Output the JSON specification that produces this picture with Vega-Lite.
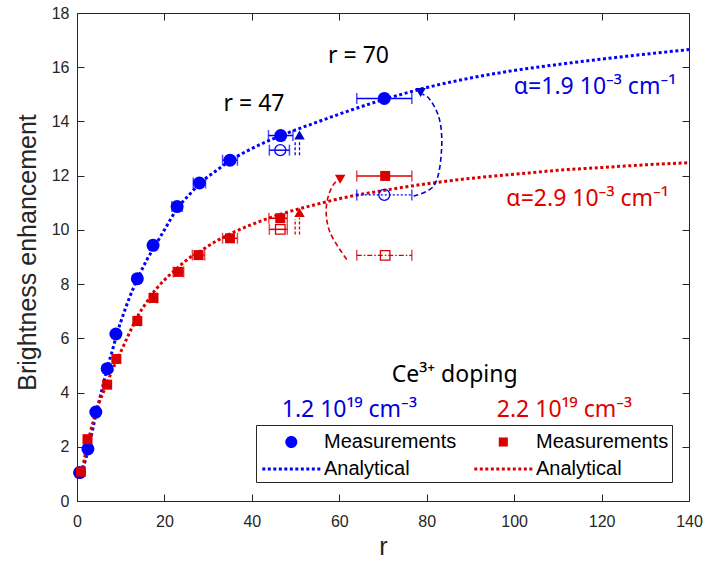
{
  "$schema": "https://vega.github.io/schema/vega-lite/v6.json",
  "width": 612,
  "height": 488,
  "autosize": "none",
  "padding": {"left": 77, "top": 13, "right": 19, "bottom": 62},
  "background": "white",
  "config": {
    "view": {"stroke": "#262626", "strokeWidth": 1},
    "axis": {
      "labelFont": "Liberation Sans", "labelFontSize": 16, "labelColor": "#262626",
      "tickColor": "#262626", "tickSize": -7, "tickWidth": 1, "domain": false, "grid": false,
      "labelFlush": false, "labelOverlap": false,
      "titleFont": "Liberation Sans", "titleColor": "#262626", "titleFontWeight": "normal"
    }
  },
  "datasets": {
    "curves": [
      {"series": "fit 1.2", "r": 1, "b": 1.0}, {"series": "fit 1.2", "r": 2, "b": 1.55}, {"series": "fit 1.2", "r": 3, "b": 2.2},
      {"series": "fit 1.2", "r": 4, "b": 2.95}, {"series": "fit 1.2", "r": 5, "b": 3.65}, {"series": "fit 1.2", "r": 6, "b": 4.3},
      {"series": "fit 1.2", "r": 7, "b": 4.95}, {"series": "fit 1.2", "r": 8, "b": 5.5}, {"series": "fit 1.2", "r": 9, "b": 6.1},
      {"series": "fit 1.2", "r": 10, "b": 6.6}, {"series": "fit 1.2", "r": 12, "b": 7.5}, {"series": "fit 1.2", "r": 14, "b": 8.25},
      {"series": "fit 1.2", "r": 16, "b": 8.9}, {"series": "fit 1.2", "r": 18, "b": 9.45}, {"series": "fit 1.2", "r": 20, "b": 10.0},
      {"series": "fit 1.2", "r": 23, "b": 10.8}, {"series": "fit 1.2", "r": 26, "b": 11.35}, {"series": "fit 1.2", "r": 28, "b": 11.7},
      {"series": "fit 1.2", "r": 32, "b": 12.2}, {"series": "fit 1.2", "r": 35, "b": 12.55}, {"series": "fit 1.2", "r": 40, "b": 13.0},
      {"series": "fit 1.2", "r": 47, "b": 13.5}, {"series": "fit 1.2", "r": 55, "b": 13.98}, {"series": "fit 1.2", "r": 60, "b": 14.27},
      {"series": "fit 1.2", "r": 70, "b": 14.8}, {"series": "fit 1.2", "r": 80, "b": 15.25}, {"series": "fit 1.2", "r": 90, "b": 15.6},
      {"series": "fit 1.2", "r": 100, "b": 15.88}, {"series": "fit 1.2", "r": 110, "b": 16.1}, {"series": "fit 1.2", "r": 120, "b": 16.3},
      {"series": "fit 1.2", "r": 130, "b": 16.48}, {"series": "fit 1.2", "r": 140, "b": 16.65},
      {"series": "fit 2.2", "r": 1, "b": 1.0}, {"series": "fit 2.2", "r": 2, "b": 1.8}, {"series": "fit 2.2", "r": 3, "b": 2.5},
      {"series": "fit 2.2", "r": 4, "b": 3.1}, {"series": "fit 2.2", "r": 5, "b": 3.6}, {"series": "fit 2.2", "r": 6, "b": 4.0},
      {"series": "fit 2.2", "r": 7, "b": 4.4}, {"series": "fit 2.2", "r": 8, "b": 4.8}, {"series": "fit 2.2", "r": 9, "b": 5.15},
      {"series": "fit 2.2", "r": 10, "b": 5.5}, {"series": "fit 2.2", "r": 12, "b": 6.2}, {"series": "fit 2.2", "r": 14, "b": 6.85},
      {"series": "fit 2.2", "r": 16, "b": 7.35}, {"series": "fit 2.2", "r": 18, "b": 7.8}, {"series": "fit 2.2", "r": 20, "b": 8.15},
      {"series": "fit 2.2", "r": 23, "b": 8.6}, {"series": "fit 2.2", "r": 26, "b": 9.0}, {"series": "fit 2.2", "r": 28, "b": 9.2},
      {"series": "fit 2.2", "r": 32, "b": 9.6}, {"series": "fit 2.2", "r": 35, "b": 9.85}, {"series": "fit 2.2", "r": 40, "b": 10.2},
      {"series": "fit 2.2", "r": 47, "b": 10.6}, {"series": "fit 2.2", "r": 55, "b": 10.95}, {"series": "fit 2.2", "r": 60, "b": 11.15},
      {"series": "fit 2.2", "r": 70, "b": 11.45}, {"series": "fit 2.2", "r": 80, "b": 11.7}, {"series": "fit 2.2", "r": 90, "b": 11.9},
      {"series": "fit 2.2", "r": 100, "b": 12.05}, {"series": "fit 2.2", "r": 110, "b": 12.2}, {"series": "fit 2.2", "r": 120, "b": 12.3},
      {"series": "fit 2.2", "r": 130, "b": 12.4}, {"series": "fit 2.2", "r": 140, "b": 12.48}
    ],
    "obs": [
      {"series": "meas 1.2", "r": 0.6, "b": 1.05}, {"series": "meas 1.2", "r": 2.5, "b": 1.92},
      {"series": "meas 1.2", "r": 4.3, "b": 3.28}, {"series": "meas 1.2", "r": 6.9, "b": 4.88},
      {"series": "meas 1.2", "r": 8.9, "b": 6.16}, {"series": "meas 1.2", "r": 13.8, "b": 8.2, "lo": 13.2, "hi": 14.4},
      {"series": "meas 1.2", "r": 17.4, "b": 9.43, "lo": 16.6, "hi": 18.2}, {"series": "meas 1.2", "r": 22.9, "b": 10.86, "lo": 21.7, "hi": 24.1},
      {"series": "meas 1.2", "r": 28, "b": 11.73, "lo": 26.6, "hi": 29.4}, {"series": "meas 1.2", "r": 35, "b": 12.57, "lo": 33.3, "hi": 36.7},
      {"series": "meas 1.2", "r": 46.6, "b": 13.48, "lo": 43.8, "hi": 49.4}, {"series": "meas 1.2", "r": 70.3, "b": 14.85, "lo": 64, "hi": 76.6},
      {"series": "meas 2.2", "r": 0.9, "b": 1.08}, {"series": "meas 2.2", "r": 2.4, "b": 2.28},
      {"series": "meas 2.2", "r": 6.9, "b": 4.29}, {"series": "meas 2.2", "r": 9.0, "b": 5.24},
      {"series": "meas 2.2", "r": 13.8, "b": 6.64, "lo": 13.2, "hi": 14.4}, {"series": "meas 2.2", "r": 17.5, "b": 7.49, "lo": 16.7, "hi": 18.3},
      {"series": "meas 2.2", "r": 23.2, "b": 8.45, "lo": 22, "hi": 24.4}, {"series": "meas 2.2", "r": 27.8, "b": 9.07, "lo": 26.4, "hi": 29.2},
      {"series": "meas 2.2", "r": 35, "b": 9.69, "lo": 33.3, "hi": 36.7}, {"series": "meas 2.2", "r": 46.5, "b": 10.43, "lo": 43.9, "hi": 48.1},
      {"series": "meas 2.2", "r": 70.5, "b": 11.99, "lo": 64, "hi": 76.6},
      {"series": "open 1.2", "r": 46.5, "b": 12.94, "lo": 44, "hi": 48.6},
      {"series": "open 1.2", "r": 70.3, "b": 11.29, "lo": 64, "hi": 76.6},
      {"series": "open 2.2", "r": 46.5, "b": 10.02, "lo": 44, "hi": 48.1},
      {"series": "open 2.2", "r": 70.5, "b": 9.06, "lo": 64, "hi": 76.6}
    ],
    "heads": [
      {"series": "1.2", "dir": "up", "r": 50.9, "b": 13.5},
      {"series": "1.2", "dir": "down", "r": 78.6, "b": 15.07},
      {"series": "2.2", "dir": "up", "r": 50.9, "b": 10.64},
      {"series": "2.2", "dir": "down", "r": 60.2, "b": 11.87}
    ],
    "shafts": [
      {"series": "1.2", "r": 49.9, "b": 12.75, "b2": 13.25},
      {"series": "1.2", "r": 50.9, "b": 12.75, "b2": 13.3},
      {"series": "2.2", "r": 49.9, "b": 9.83, "b2": 10.4},
      {"series": "2.2", "r": 50.9, "b": 9.83, "b2": 10.45}
    ],
    "arcs": [
      {"series": "1.2", "i": 0, "r": 77, "b": 11.25}, {"series": "1.2", "i": 1, "r": 81.5, "b": 11.6},
      {"series": "1.2", "i": 2, "r": 83.4, "b": 12.98}, {"series": "1.2", "i": 3, "r": 82.7, "b": 14.2},
      {"series": "1.2", "i": 4, "r": 80.2, "b": 14.9}, {"series": "1.2", "i": 5, "r": 79, "b": 15.0},
      {"series": "2.2", "i": 0, "r": 61.7, "b": 8.91}, {"series": "2.2", "i": 1, "r": 57.9, "b": 9.9},
      {"series": "2.2", "i": 2, "r": 57, "b": 10.64}, {"series": "2.2", "i": 3, "r": 57.5, "b": 11.25},
      {"series": "2.2", "i": 4, "r": 58.8, "b": 11.7}, {"series": "2.2", "i": 5, "r": 59.9, "b": 11.85}
    ],
    "notes": [
      {"group": "general", "text": "r = 47", "r": 40.5, "b": 14.64},
      {"group": "general", "text": "r = 70", "r": 64.4, "b": 16.4},
      {"group": "general", "text": "Ce³⁺ doping", "r": 86.4, "b": 4.66},
      {"group": "1.2", "text": "α=1.9 10⁻³ cm⁻¹", "r": 118.5, "b": 15.26},
      {"group": "1.2", "text": "1.2 10¹⁹ cm⁻³", "r": 62.3, "b": 3.36},
      {"group": "2.2", "text": "α=2.9 10⁻³ cm⁻¹", "r": 116.8, "b": 11.13},
      {"group": "2.2", "text": "2.2 10¹⁹ cm⁻³", "r": 111.5, "b": 3.36}
    ]
  },
  "resolve": {"axis": {"x": "independent", "y": "independent"}},
  "layer": [
    {
      "layer": [
        {
          "data": {"name": "curves"},
          "transform": [{"filter": "datum.series === 'fit 1.2'"}],
          "mark": {"type": "line", "color": "#0000FF", "strokeWidth": 3, "strokeDash": [3, 2.6], "strokeCap": "butt", "interpolate": "monotone"},
          "encoding": {
            "x": {"field": "r", "type": "quantitative", "scale": {"domain": [0, 140], "nice": false, "zero": false},
                  "axis": {"title": "r", "values": [0, 20, 40, 60, 80, 100, 120, 140], "labelPadding": 19, "titleFontSize": 25, "titleBaseline": "alphabetic", "titleY": 53}},
            "y": {"field": "b", "type": "quantitative", "scale": {"domain": [0, 18], "nice": false, "zero": false},
                  "axis": {"title": "Brightness enhancement", "values": [0, 2, 4, 6, 8, 10, 12, 14, 16, 18], "labelPadding": 15, "titleFontSize": 25, "titleX": -37, "titleY": 239, "titleBaseline": "bottom"}}
          }
        },
        {
          "data": {"name": "curves"},
          "transform": [{"filter": "datum.series === 'fit 2.2'"}],
          "mark": {"type": "line", "color": "#D90000", "strokeWidth": 3, "strokeDash": [3, 2.6], "strokeCap": "butt", "interpolate": "monotone"},
          "encoding": {"x": {"field": "r", "type": "quantitative"}, "y": {"field": "b", "type": "quantitative"}}
        },
        {
          "data": {"name": "obs"},
          "transform": [{"filter": "datum.lo != null && (datum.series === 'meas 1.2' || (datum.series === 'open 1.2' && datum.r < 60))"}],
          "mark": {"type": "rule", "color": "#0000FF", "strokeWidth": 1.5},
          "encoding": {"x": {"field": "lo", "type": "quantitative"}, "x2": {"field": "hi"}, "y": {"field": "b", "type": "quantitative"}}
        },
        {
          "data": {"name": "obs"},
          "transform": [{"filter": "datum.lo != null && (datum.series === 'meas 2.2' || (datum.series === 'open 2.2' && datum.r < 60))"}],
          "mark": {"type": "rule", "color": "#D90000", "strokeWidth": 1.5},
          "encoding": {"x": {"field": "lo", "type": "quantitative"}, "x2": {"field": "hi"}, "y": {"field": "b", "type": "quantitative"}}
        },
        {
          "data": {"name": "obs"},
          "transform": [{"filter": "datum.series === 'open 1.2' && datum.r > 60"}],
          "mark": {"type": "rule", "color": "#0000FF", "strokeWidth": 1.2, "strokeDash": [2, 2]},
          "encoding": {"x": {"field": "lo", "type": "quantitative"}, "x2": {"field": "hi"}, "y": {"field": "b", "type": "quantitative"}}
        },
        {
          "data": {"name": "obs"},
          "transform": [{"filter": "datum.series === 'open 2.2' && datum.r > 60"}],
          "mark": {"type": "rule", "color": "#D90000", "strokeWidth": 1.2, "strokeDash": [5, 2, 1.5, 2]},
          "encoding": {"x": {"field": "lo", "type": "quantitative"}, "x2": {"field": "hi"}, "y": {"field": "b", "type": "quantitative"}}
        },
        {
          "data": {"name": "obs"},
          "transform": [{"filter": "datum.lo != null && (datum.series === 'meas 1.2' || datum.series === 'open 1.2')"}, {"fold": ["lo", "hi"], "as": ["end", "xe"]}],
          "mark": {"type": "tick", "orient": "vertical", "color": "#0000FF", "size": 11, "thickness": 1.5},
          "encoding": {"x": {"field": "xe", "type": "quantitative"}, "y": {"field": "b", "type": "quantitative"}}
        },
        {
          "data": {"name": "obs"},
          "transform": [{"filter": "datum.lo != null && (datum.series === 'meas 2.2' || datum.series === 'open 2.2')"}, {"fold": ["lo", "hi"], "as": ["end", "xe"]}],
          "mark": {"type": "tick", "orient": "vertical", "color": "#D90000", "size": 11, "thickness": 1.5},
          "encoding": {"x": {"field": "xe", "type": "quantitative"}, "y": {"field": "b", "type": "quantitative"}}
        },
        {
          "data": {"name": "obs"},
          "transform": [{"filter": "datum.series === 'open 1.2'"}],
          "mark": {"type": "point", "shape": "circle", "filled": false, "color": "#0000FF", "size": 121, "strokeWidth": 1.3, "opacity": 1},
          "encoding": {"x": {"field": "r", "type": "quantitative"}, "y": {"field": "b", "type": "quantitative"}}
        },
        {
          "data": {"name": "obs"},
          "transform": [{"filter": "datum.series === 'open 2.2'"}],
          "mark": {"type": "point", "shape": "square", "filled": false, "color": "#D90000", "size": 90, "strokeWidth": 1.3, "opacity": 1},
          "encoding": {"x": {"field": "r", "type": "quantitative"}, "y": {"field": "b", "type": "quantitative"}}
        },
        {
          "data": {"name": "shafts"},
          "transform": [{"filter": "datum.series === '1.2'"}],
          "mark": {"type": "rule", "color": "#0000FF", "strokeWidth": 1.3, "strokeDash": [3, 2]},
          "encoding": {"x": {"field": "r", "type": "quantitative"}, "y": {"field": "b", "type": "quantitative"}, "y2": {"field": "b2"}}
        },
        {
          "data": {"name": "shafts"},
          "transform": [{"filter": "datum.series === '2.2'"}],
          "mark": {"type": "rule", "color": "#D90000", "strokeWidth": 1.3, "strokeDash": [3, 2]},
          "encoding": {"x": {"field": "r", "type": "quantitative"}, "y": {"field": "b", "type": "quantitative"}, "y2": {"field": "b2"}}
        },
        {
          "data": {"name": "arcs"},
          "transform": [{"filter": "datum.series === '1.2'"}],
          "mark": {"type": "line", "color": "#0000CC", "strokeWidth": 1.6, "strokeDash": [5, 3], "interpolate": "catmull-rom"},
          "encoding": {"x": {"field": "r", "type": "quantitative"}, "y": {"field": "b", "type": "quantitative"}, "order": {"field": "i", "type": "quantitative"}}
        },
        {
          "data": {"name": "arcs"},
          "transform": [{"filter": "datum.series === '2.2'"}],
          "mark": {"type": "line", "color": "#D90000", "strokeWidth": 1.6, "strokeDash": [5, 3], "interpolate": "catmull-rom"},
          "encoding": {"x": {"field": "r", "type": "quantitative"}, "y": {"field": "b", "type": "quantitative"}, "order": {"field": "i", "type": "quantitative"}}
        },
        {
          "data": {"name": "heads"},
          "transform": [{"filter": "datum.series === '1.2' && datum.dir === 'up'"}],
          "mark": {"type": "point", "shape": "triangle-up", "filled": true, "color": "#0000CC", "size": 110, "opacity": 1},
          "encoding": {"x": {"field": "r", "type": "quantitative"}, "y": {"field": "b", "type": "quantitative"}}
        },
        {
          "data": {"name": "heads"},
          "transform": [{"filter": "datum.series === '1.2' && datum.dir === 'down'"}],
          "mark": {"type": "point", "shape": "triangle-down", "filled": true, "color": "#0000CC", "size": 110, "opacity": 1},
          "encoding": {"x": {"field": "r", "type": "quantitative"}, "y": {"field": "b", "type": "quantitative"}}
        },
        {
          "data": {"name": "heads"},
          "transform": [{"filter": "datum.series === '2.2' && datum.dir === 'up'"}],
          "mark": {"type": "point", "shape": "triangle-up", "filled": true, "color": "#D90000", "size": 110, "opacity": 1},
          "encoding": {"x": {"field": "r", "type": "quantitative"}, "y": {"field": "b", "type": "quantitative"}}
        },
        {
          "data": {"name": "heads"},
          "transform": [{"filter": "datum.series === '2.2' && datum.dir === 'down'"}],
          "mark": {"type": "point", "shape": "triangle-down", "filled": true, "color": "#D90000", "size": 110, "opacity": 1},
          "encoding": {"x": {"field": "r", "type": "quantitative"}, "y": {"field": "b", "type": "quantitative"}}
        },
        {
          "data": {"name": "obs"},
          "transform": [{"filter": "datum.series === 'meas 1.2'"}],
          "mark": {"type": "point", "shape": "circle", "filled": true, "color": "#0000FF", "size": 169, "opacity": 1, "strokeWidth": 0},
          "encoding": {"x": {"field": "r", "type": "quantitative"}, "y": {"field": "b", "type": "quantitative"}}
        },
        {
          "data": {"name": "obs"},
          "transform": [{"filter": "datum.series === 'meas 2.2'"}],
          "mark": {"type": "point", "shape": "square", "filled": true, "color": "#D90000", "size": 100, "opacity": 1, "strokeWidth": 0},
          "encoding": {"x": {"field": "r", "type": "quantitative"}, "y": {"field": "b", "type": "quantitative"}}
        },
        {
          "data": {"name": "obs"},
          "transform": [{"filter": "datum.r < 0"}],
          "mark": {"type": "point", "filled": true, "size": 751, "opacity": 1, "strokeWidth": 0},
          "encoding": {
            "x": {"field": "r", "type": "quantitative"},
            "y": {"field": "b", "type": "quantitative"},
            "color": {
              "field": "series", "type": "nominal",
              "scale": {"domain": ["meas 1.2", "fit 1.2", "meas 2.2", "fit 2.2"], "range": ["#0000FF", "#0000FF", "#D90000", "#D90000"]},
              "legend": {"orient": "none", "legendX": 179, "legendY": 412, "title": null, "columns": 2, "columnPadding": 14, "rowPadding": 3, "padding": 3,
                         "strokeColor": "#262626", "fillColor": "white", "labelFont": "Liberation Sans", "labelFontSize": 20, "labelColor": "#000000",
                         "labelOffset": 37, "symbolSize": 751, "symbolStrokeWidth": 0, "symbolOpacity": 1, "labelLimit": 300,
                         "labelExpr": "(datum.value === 'meas 1.2' || datum.value === 'meas 2.2') ? 'Measurements' : 'Analytical'"}
            },
            "shape": {
              "field": "series", "type": "nominal",
              "scale": {"domain": ["meas 1.2", "fit 1.2", "meas 2.2", "fit 2.2"],
                        "range": ["M1.776,0A0.44,0.44,0,1,1,0.896,0A0.44,0.44,0,1,1,1.776,0Z",
                                  "M-0.781,-0.11h0.219v0.22h-0.219zM-0.38,-0.11h0.219v0.22h-0.219zM0.022,-0.11h0.219v0.22h-0.219zM0.424,-0.11h0.219v0.22h-0.219zM0.825,-0.11h0.219v0.22h-0.219zM1.227,-0.11h0.219v0.22h-0.219zM1.628,-0.11h0.219v0.22h-0.219zM2.03,-0.11h0.219v0.22h-0.219zM2.431,-0.11h0.219v0.22h-0.219zM2.833,-0.11h0.219v0.22h-0.219zM3.234,-0.11h0.219v0.22h-0.219z",
                                  "M1.006,-0.33H1.666V0.33H1.006Z",
                                  "M-0.781,-0.11h0.219v0.22h-0.219zM-0.38,-0.11h0.219v0.22h-0.219zM0.022,-0.11h0.219v0.22h-0.219zM0.424,-0.11h0.219v0.22h-0.219zM0.825,-0.11h0.219v0.22h-0.219zM1.227,-0.11h0.219v0.22h-0.219zM1.628,-0.11h0.219v0.22h-0.219zM2.03,-0.11h0.219v0.22h-0.219zM2.431,-0.11h0.219v0.22h-0.219zM2.833,-0.11h0.219v0.22h-0.219zM3.234,-0.11h0.219v0.22h-0.219z"]},
              "legend": {"orient": "none", "legendX": 179, "legendY": 412, "title": null, "columns": 2, "columnPadding": 14, "rowPadding": 3, "padding": 3,
                         "strokeColor": "#262626", "fillColor": "white", "labelFont": "Liberation Sans", "labelFontSize": 20, "labelColor": "#000000",
                         "labelOffset": 37, "symbolSize": 751, "symbolStrokeWidth": 0, "symbolOpacity": 1, "labelLimit": 300,
                         "labelExpr": "(datum.value === 'meas 1.2' || datum.value === 'meas 2.2') ? 'Measurements' : 'Analytical'"}
            }
          }
        },
        {
          "data": {"name": "notes"},
          "transform": [{"filter": "datum.group === 'general'"}],
          "mark": {"type": "text", "font": "Noto Sans", "fontSize": 23, "color": "#000000", "align": "center", "baseline": "middle"},
          "encoding": {"x": {"field": "r", "type": "quantitative"}, "y": {"field": "b", "type": "quantitative"}, "text": {"field": "text"}}
        },
        {
          "data": {"name": "notes"},
          "transform": [{"filter": "datum.group === '1.2'"}],
          "mark": {"type": "text", "font": "Noto Sans", "fontSize": 23, "color": "#0000E0", "align": "center", "baseline": "middle"},
          "encoding": {"x": {"field": "r", "type": "quantitative"}, "y": {"field": "b", "type": "quantitative"}, "text": {"field": "text"}}
        },
        {
          "data": {"name": "notes"},
          "transform": [{"filter": "datum.group === '2.2'"}],
          "mark": {"type": "text", "font": "Noto Sans", "fontSize": 23, "color": "#E00000", "align": "center", "baseline": "middle"},
          "encoding": {"x": {"field": "r", "type": "quantitative"}, "y": {"field": "b", "type": "quantitative"}, "text": {"field": "text"}}
        }
      ]
    },
    {
      "data": {"name": "curves"},
      "mark": {"type": "point", "opacity": 0},
      "encoding": {
        "x": {"field": "r", "type": "quantitative", "axis": {"orient": "top", "labels": false, "title": null, "values": [0, 20, 40, 60, 80, 100, 120, 140]}},
        "y": {"field": "b", "type": "quantitative", "axis": {"orient": "right", "labels": false, "title": null, "values": [0, 2, 4, 6, 8, 10, 12, 14, 16, 18]}}
      }
    }
  ]
}
